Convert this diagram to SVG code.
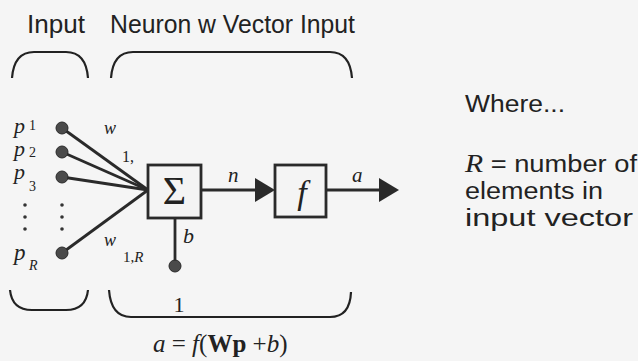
<svg xmlns="http://www.w3.org/2000/svg" width="638" height="361" viewBox="0 0 638 361">
<defs>
<style>
.lbl{font-family:"Liberation Sans",Arial,sans-serif;fill:#222;}
.m{font-family:"Liberation Serif","Times New Roman",serif;font-style:italic;fill:#222;}
.mr{font-family:"Liberation Serif","Times New Roman",serif;fill:#222;}
.ln{stroke:#2a2a2a;stroke-width:2.8;fill:none;}
.br{stroke:#222;stroke-width:2.2;fill:none;}
.box{fill:#f4f4f4;stroke:#2a2a2a;stroke-width:2.8;}
.dot{fill:#4a4a4a;stroke:#2a2a2a;stroke-width:1;}
.ah{fill:#2a2a2a;}
</style>
</defs>
<rect width="638" height="361" fill="#f5f5f5"/>
<g id="headings">
<text class="lbl" x="27" y="33" font-size="25" textLength="58" lengthAdjust="spacingAndGlyphs">Input</text>
<text class="lbl" x="110" y="33" font-size="25" textLength="245" lengthAdjust="spacingAndGlyphs">Neuron w Vector Input</text>
<path class="br" d="M12,78 Q14,52 34,52 L66,52 Q86,52 88,78"/>
<path class="br" d="M111,78 Q113,52 133,52 L330,52 Q350,52 352,78"/>
<path class="br" d="M10,290 Q12,310 32,310 L66,310 Q86,310 88,290"/>
<path class="br" d="M109,290 Q111,317 131,317 L330,317 Q350,317 351,292"/>
</g>
<g id="connectors">
<line class="ln" x1="62" y1="128" x2="148" y2="190"/>
<line class="ln" x1="62" y1="152" x2="148" y2="190"/>
<line class="ln" x1="62" y1="177" x2="148" y2="190"/>
<line class="ln" x1="62" y1="253" x2="148" y2="190"/>
<line class="ln" x1="175" y1="218" x2="175" y2="265"/>
<line class="ln" x1="201" y1="190" x2="260" y2="190"/>
<path class="ah" d="M255,178 L275,190 L255,202 z"/>
<line class="ln" x1="326" y1="190" x2="385" y2="190"/>
<path class="ah" d="M379,178 L399,190 L379,202 z"/>
</g>
<g id="inputs">
<circle class="dot" cx="62" cy="128" r="6"/>
<circle class="dot" cx="62" cy="152" r="6"/>
<circle class="dot" cx="62" cy="177" r="6" fill="#5a3a40"/>
<circle class="dot" cx="62" cy="253" r="6"/>
<circle cx="62" cy="205" r="1.8" fill="#333"/>
<circle cx="62" cy="217" r="1.8" fill="#333"/>
<circle cx="62" cy="229" r="1.8" fill="#333"/>
<text class="m" x="14" y="133" font-size="22">p</text>
<text class="mr" x="29" y="130" font-size="14">1</text>
<text class="m" x="14" y="156" font-size="22">p</text>
<text class="mr" x="29" y="157" font-size="14">2</text>
<text class="m" x="14" y="179" font-size="22">p</text>
<text class="mr" x="29" y="191" font-size="14">3</text>
<circle cx="25" cy="205" r="1.8" fill="#333"/>
<circle cx="25" cy="217" r="1.8" fill="#333"/>
<circle cx="25" cy="229" r="1.8" fill="#333"/>
<text class="m" x="14" y="260" font-size="23">p</text>
<text class="m" x="29" y="270" font-size="14" fill="#334">R</text>
</g>
<g id="weights">
<text class="m" x="104" y="134" font-size="18">w</text>
<text class="mr" x="122" y="162" font-size="16">1,</text>
<text class="m" x="104" y="246" font-size="18">w</text>
<text class="mr" x="123" y="262" font-size="15">1,<tspan font-style="italic">R</tspan></text>
</g>
<g id="sum">
<rect class="box" x="148" y="165" width="53" height="53"/>
<text class="mr" x="174.5" y="204" font-size="40" text-anchor="middle">Σ</text>
<text class="m" x="183" y="243" font-size="22">b</text>
</g>
<g id="bias">
<circle class="dot" cx="175" cy="266" r="6" fill="#44486a"/>
<text class="mr" x="179" y="312" font-size="22" text-anchor="middle">1</text>
</g>
<g id="transfer">
<rect class="box" x="275" y="165" width="51" height="52"/>
<text class="m" x="302" y="204" font-size="34" text-anchor="middle">f</text>
<text class="m" x="228" y="182" font-size="21">n</text>
<text class="m" x="352" y="182" font-size="21">a</text>
</g>
<g id="equation">
<text class="m" x="153" y="352" font-size="25">a<tspan font-style="normal"> = </tspan>f<tspan font-style="normal">(</tspan><tspan font-style="normal" font-weight="bold">Wp</tspan><tspan font-style="normal"> +</tspan>b<tspan font-style="normal">)</tspan></text>
</g>
<g id="notes">
<text class="lbl" x="465" y="112" font-size="23" textLength="100" lengthAdjust="spacingAndGlyphs">Where...</text>
<text class="lbl" x="465" y="172" font-size="23" textLength="172" lengthAdjust="spacingAndGlyphs"><tspan class="m" font-size="25">R</tspan> = number of</text>
<text class="lbl" x="465" y="199" font-size="23" textLength="138" lengthAdjust="spacingAndGlyphs">elements in</text>
<text class="lbl" x="465" y="226" font-size="23" textLength="168" lengthAdjust="spacingAndGlyphs">input vector</text>
</g>
</svg>
